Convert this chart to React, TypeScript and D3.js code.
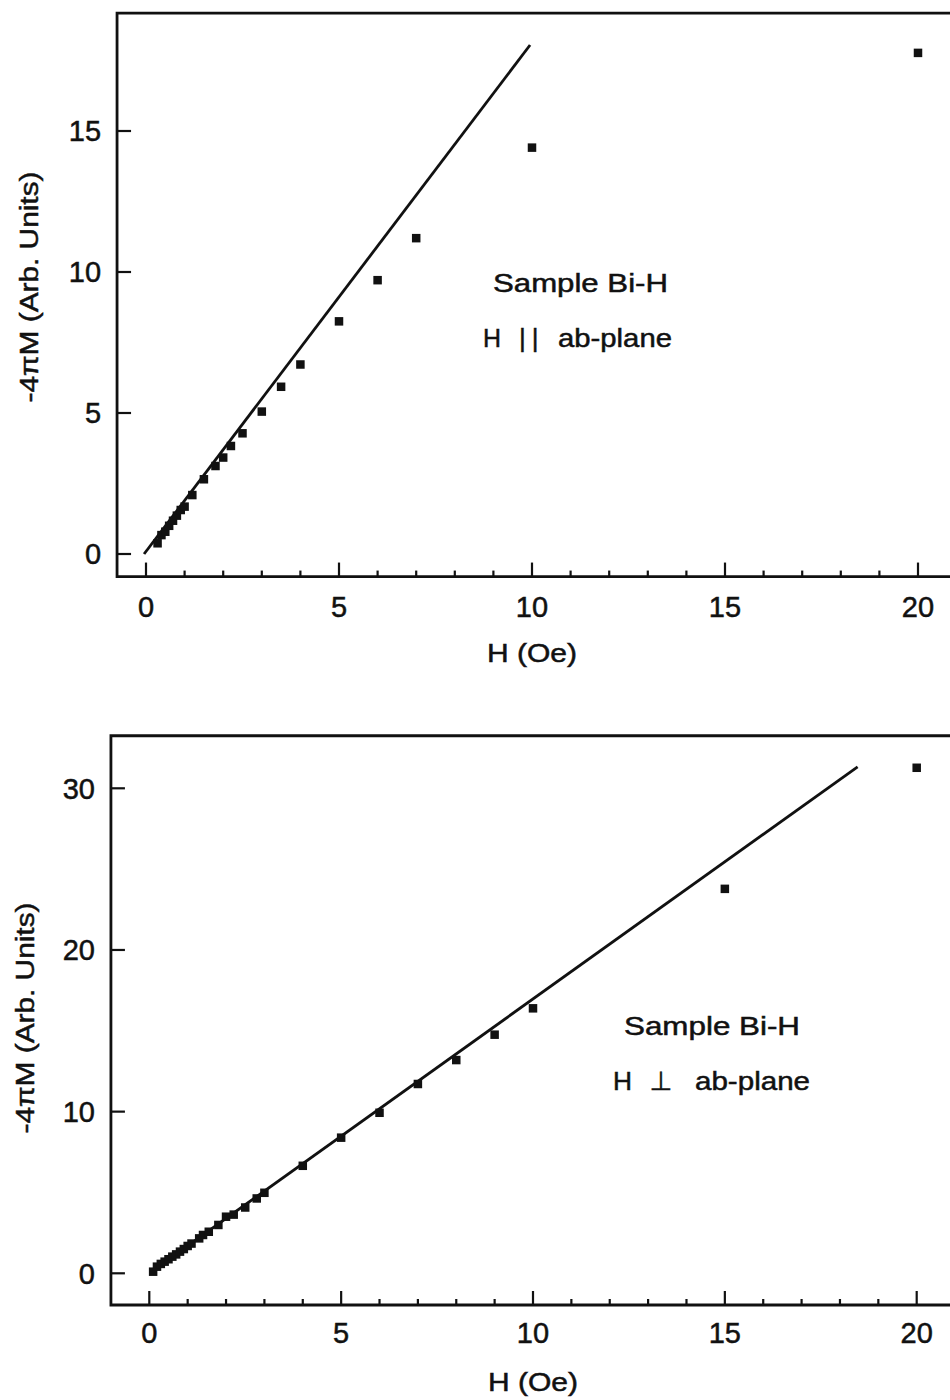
import React from "react";
import * as d3 from "d3";

// H parallel to the ab-plane: applied field (Oe) and -4πM (arb. units)
const parallelH = [0.3, 0.4, 0.5, 0.6, 0.7, 0.8, 0.9, 1.0, 1.2, 1.5, 1.8, 2.0, 2.2, 2.5, 3.0, 3.5, 4.0, 5.0, 6.0, 7.0, 10.0, 20.0];
const parallelM = [0.38, 0.67, 0.79, 1.0, 1.18, 1.36, 1.56, 1.68, 2.09, 2.65, 3.12, 3.42, 3.83, 4.28, 5.05, 5.93, 6.72, 8.25, 9.71, 11.2, 14.41, 17.77];
// Initial-slope line for the parallel geometry
const parallelFitH = [-0.05, 9.95];
const parallelFitM = [0, 18.05];

// H perpendicular to the ab-plane
const perpH = [0.1, 0.2, 0.3, 0.4, 0.5, 0.6, 0.7, 0.8, 0.9, 1.0, 1.1, 1.3, 1.4, 1.55, 1.8, 2.0, 2.2, 2.5, 2.8, 3.0, 4.0, 5.0, 6.0, 7.0, 8.0, 9.0, 10.0, 15.0, 20.0];
const perpM = [0.1, 0.41, 0.58, 0.72, 0.87, 1.03, 1.17, 1.34, 1.5, 1.69, 1.84, 2.16, 2.37, 2.57, 2.99, 3.5, 3.63, 4.07, 4.63, 4.98, 6.65, 8.39, 9.93, 11.71, 13.19, 14.76, 16.39, 23.78, 31.27];
const perpFitH = [0.05, 18.46];
const perpFitM = [0.08, 31.33];

const xTickValues = [0, 5, 10, 15, 20];
const xMinorValues = [1, 2, 3, 4, 6, 7, 8, 9, 11, 12, 13, 14, 16, 17, 18, 19];
const parallelYTicks = [0, 5, 10, 15];
const perpYTicks = [0, 10, 20, 30];

const xTitle = "H (Oe)";
const yTitle = "-4\u03c0M (Arb. Units)";

const FONT = "'Liberation Sans', Arial, Helvetica, sans-serif";
const INK = "#111";
// a hairline outline gives the printed type a little more weight
const textInk = { fill: INK, stroke: INK, strokeWidth: 0.5 } as const;

type PanelProps = {
  xs: d3.ScaleLinear<number, number>;
  ys: d3.ScaleLinear<number, number>;
  xMin: number;
  xMax: number;
  yMin: number;
  yMax: number;
  yTicks: number[];
  hs: number[];
  ms: number[];
  fitH: number[];
  fitM: number[];
  xTitleY: number;
  yTitleX: number;
  yTitleCenter: number;
  xLabelY: number;
  yLabelGap: number;
  note: React.ReactNode;
};

function Panel(p: PanelProps) {
  const { xs, ys } = p;
  const left = xs(p.xMin);
  const right = xs(p.xMax);
  const top = ys(p.yMax);
  const bottom = ys(p.yMin);
  const line = d3
    .line<number>()
    .x((_, i) => xs(p.fitH[i]))
    .y((d) => ys(d));
  const size = 8.5;
  return (
    <g>
      {/* frame */}
      <path
        d={`M${right},${top}H${left}V${bottom}H${right}`}
        fill="none"
        stroke={INK}
        strokeWidth={2.8}
      />
      {/* x ticks */}
      {xTickValues.map((v) => (
        <line key={"xm" + v} x1={xs(v)} x2={xs(v)} y1={bottom} y2={bottom - 14} stroke={INK} strokeWidth={2.2} />
      ))}
      {xMinorValues.map((v) => (
        <line key={"xn" + v} x1={xs(v)} x2={xs(v)} y1={bottom} y2={bottom - 6} stroke={INK} strokeWidth={2.2} />
      ))}
      {xTickValues.map((v) => (
        <text key={"xl" + v} x={xs(v)} y={p.xLabelY} textAnchor="middle" fontSize={29} fontFamily={FONT} {...textInk}>
          {v}
        </text>
      ))}
      {/* y ticks */}
      {p.yTicks.map((v) => (
        <line key={"ym" + v} x1={left} x2={left + 14} y1={ys(v)} y2={ys(v)} stroke={INK} strokeWidth={2.2} />
      ))}
      {p.yTicks.map((v) => (
        <text
          key={"yl" + v}
          x={left - p.yLabelGap}
          y={ys(v)}
          dy="0.36em"
          textAnchor="end"
          fontSize={29}
          fontFamily={FONT}
          {...textInk}
        >
          {v}
        </text>
      ))}
      {/* axis titles */}
      <text
        x={xs(10)}
        y={p.xTitleY}
        textAnchor="middle"
        fontSize={26}
        fontFamily={FONT}
        {...textInk}
        textLength={90}
        lengthAdjust="spacingAndGlyphs"
      >
        {xTitle}
      </text>
      <text
        transform={`translate(${p.yTitleX},${p.yTitleCenter}) rotate(-90)`}
        textAnchor="middle"
        fontSize={26}
        fontFamily={FONT}
        {...textInk}
        textLength={231}
        lengthAdjust="spacingAndGlyphs"
      >
        {yTitle}
      </text>
      {/* fitted line */}
      <path d={line(p.fitM) || ""} fill="none" stroke={INK} strokeWidth={2.8} />
      {/* data points */}
      {p.hs.map((h, i) => (
        <rect
          key={"pt" + i}
          x={xs(h) - size / 2}
          y={ys(p.ms[i]) - size / 2}
          width={size}
          height={size}
          fill={INK}
        />
      ))}
      {p.note}
    </g>
  );
}

export default function App() {
  const xTop = d3.scaleLinear().domain([0, 20]).range([146, 918]);
  const yTop = d3.scaleLinear().domain([0, 15]).range([554, 131]);
  const xBot = d3.scaleLinear().domain([0, 20]).range([149.3, 916.7]);
  const yBot = d3.scaleLinear().domain([0, 30]).range([1273.3, 788.3]);

  const noteStyle = { fontSize: 26, fontFamily: FONT, ...textInk } as const;

  return (
    <svg
      width={950}
      height={1400}
      viewBox="0 0 950 1400"
      style={{ position: "absolute", left: 0, top: 0, background: "#fff" }}
    >
      <rect x={0} y={0} width={950} height={1400} fill="#fff" />
      <Panel
        xs={xTop}
        ys={yTop}
        xMin={-0.75}
        xMax={21}
        yMin={-0.8}
        yMax={19.18}
        yTicks={parallelYTicks}
        hs={parallelH}
        ms={parallelM}
        fitH={parallelFitH}
        fitM={parallelFitM}
        xTitleY={662}
        yTitleX={38}
        yTitleCenter={287}
        xLabelY={617}
        yLabelGap={16}
        note={
          <g>
            <text x={493} y={292} {...noteStyle} textLength={175} lengthAdjust="spacingAndGlyphs">
              Sample Bi-H
            </text>
            <text x={483} y={347} {...noteStyle} textLength={18} lengthAdjust="spacingAndGlyphs">
              H
            </text>
            <text x={519} y={347} {...noteStyle} letterSpacing={6}>
              ||
            </text>
            <text x={558} y={347} {...noteStyle} textLength={114} lengthAdjust="spacingAndGlyphs">
              ab-plane
            </text>
          </g>
        }
      />
      <Panel
        xs={xBot}
        ys={yBot}
        xMin={-1}
        xMax={21}
        yMin={-1.96}
        yMax={33.25}
        yTicks={perpYTicks}
        hs={perpH}
        ms={perpM}
        fitH={perpFitH}
        fitM={perpFitM}
        xTitleY={1391}
        yTitleX={34}
        yTitleCenter={1018}
        xLabelY={1343}
        yLabelGap={16}
        note={
          <g>
            <text x={624} y={1035} {...noteStyle} textLength={176} lengthAdjust="spacingAndGlyphs">
              Sample Bi-H
            </text>
            <text x={613} y={1090} {...noteStyle} textLength={19} lengthAdjust="spacingAndGlyphs">
              H
            </text>
            <text x={661} y={1090} {...noteStyle} textAnchor="middle" fontFamily="'DejaVu Sans', sans-serif">
              {"\u22a5"}
            </text>
            <text x={695} y={1090} {...noteStyle} textLength={115} lengthAdjust="spacingAndGlyphs">
              ab-plane
            </text>
          </g>
        }
      />
    </svg>
  );
}
